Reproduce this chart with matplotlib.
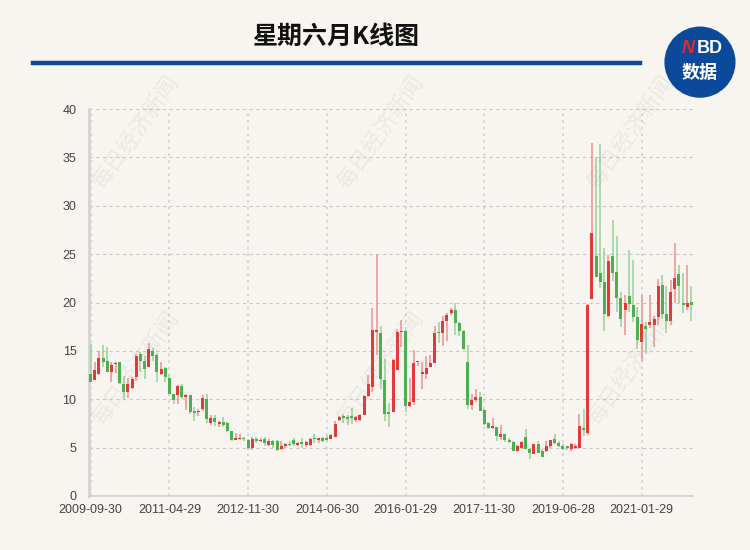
import matplotlib
matplotlib.use("Agg")
from matplotlib import pyplot as plt
from matplotlib.patches import Ellipse
import numpy as np
import pandas as pd

plt.rcParams['font.family'] = ['Liberation Sans', 'Noto Sans CJK SC', 'DejaVu Sans']

# 月K线数据 (开, 高, 低, 收)
opens = [12.6, 12.0, 12.6, 14.3, 14.0, 12.8, 13.6, 13.8, 11.6, 10.7,
         11.2, 12.3, 14.7, 14.0, 13.3, 15.0, 14.6, 12.6, 13.2, 12.2,
         10.5, 10.4, 11.4, 10.2, 10.4, 8.8, 8.7, 9.0, 10.0, 7.5,
         8.1, 7.4, 7.6, 7.5, 6.7, 5.8, 5.9, 6.0, 5.8, 5.0,
         5.9, 5.7, 5.9, 5.3, 5.7, 5.7, 4.9, 5.2, 5.4, 5.8,
         5.3, 5.6, 5.3, 5.3, 6.0, 5.8, 6.0, 6.0, 5.9, 6.1,
         7.9, 8.2, 8.2, 8.2, 7.9, 7.9, 8.4, 10.3, 11.3, 17.0,
         16.8, 12.0, 8.7, 8.7, 13.05, 16.9, 17.1, 9.3, 9.7, 13.8,
         12.6, 12.6, 13.3, 13.7, 17.0, 16.8, 18.1, 18.9, 19.2, 17.9,
         17.1, 13.85, 9.45, 9.9, 10.2, 8.9, 7.5, 7.0, 7.1, 6.1,
         6.4, 5.8, 5.6, 4.7, 5.0, 6.1, 4.9, 4.3, 5.4, 4.6,
         4.65, 5.2, 5.85, 5.5, 5.2, 5.1, 4.85, 5.0, 5.0, 7.0,
         6.5, 20.4, 24.85, 23.0, 22.1, 18.65, 24.85, 23.2, 20.5, 19.2,
         20.7, 19.7, 18.5, 15.9, 17.6, 17.7, 17.7, 18.5, 21.85, 18.8,
         18.1, 21.4, 22.95, 20.0, 19.5, 20.1]
highs = [15.7, 13.9, 15.0, 15.6, 15.4, 13.8, 13.9, 13.9, 12.4, 12.2,
         12.3, 14.7, 14.9, 14.5, 15.8, 15.3, 14.8, 13.9, 13.3, 12.5,
         10.5, 11.5, 11.6, 10.5, 10.4, 9.2, 9.0, 10.4, 10.5, 8.4,
         8.4, 7.8, 8.2, 7.6, 6.7, 6.55, 6.4, 6.1, 5.9, 6.1,
         6.1, 6.0, 6.1, 5.9, 5.8, 5.8, 5.7, 5.5, 5.7, 6.0,
         5.6, 6.0, 5.7, 6.0, 6.4, 6.0, 6.1, 6.2, 6.4, 7.8,
         8.3, 8.5, 8.4, 9.1, 8.3, 8.5, 10.4, 12.5, 19.4, 25.0,
         17.6, 14.2, 9.6, 14.2, 17.3, 18.2, 17.2, 12.2, 15.1, 14.0,
         13.8, 14.5, 14.6, 17.6, 17.95, 18.6, 18.9, 19.4, 20.0, 18.0,
         17.2, 15.6, 10.5, 11.1, 10.7, 9.0, 7.6, 8.05, 7.15, 7.35,
         6.45, 5.95, 5.7, 5.3, 5.7, 6.9, 5.0, 5.4, 5.7, 4.9,
         5.7, 5.75, 6.4, 5.7, 5.4, 5.2, 5.45, 5.4, 8.5, 9.0,
         19.8, 36.5, 35.05, 36.4, 25.6, 24.9, 28.5, 26.9, 21.05, 20.8,
         25.4, 24.4, 19.5, 20.8, 18.0, 20.8, 18.65, 22.4, 22.8, 21.75,
         22.3, 26.1, 23.9, 23.1, 23.9, 21.75]
lows = [11.8, 12.0, 12.5, 13.3, 12.8, 11.8, 12.7, 11.6, 9.9, 10.1,
        11.1, 11.9, 12.8, 12.1, 13.3, 14.0, 11.8, 12.5, 11.8, 10.5,
        9.5, 9.5, 10.0, 8.9, 8.5, 7.8, 8.3, 8.8, 7.5, 7.3,
        7.2, 7.1, 7.1, 6.6, 5.7, 5.75, 5.75, 5.7, 4.8, 4.8,
        5.5, 5.6, 5.2, 5.2, 5.0, 4.7, 4.8, 5.0, 5.2, 5.2,
        5.2, 5.0, 5.1, 5.2, 5.5, 5.5, 5.6, 5.7, 5.85, 6.1,
        7.8, 7.5, 7.3, 7.4, 7.6, 7.8, 8.4, 10.2, 10.75, 14.6,
        11.1, 7.7, 7.15, 8.7, 13.05, 15.4, 8.7, 9.2, 9.4, 13.4,
        11.1, 12.1, 13.3, 13.7, 15.8, 15.5, 16.0, 18.75, 16.6, 16.5,
        15.1, 9.0, 8.9, 9.7, 8.75, 7.35, 6.9, 6.9, 5.7, 5.8,
        5.6, 5.5, 4.65, 4.5, 4.9, 4.85, 3.8, 4.3, 4.4, 4.0,
        4.5, 5.0, 5.35, 5.05, 4.8, 4.8, 4.6, 4.9, 5.0, 6.2,
        6.3, 20.4, 22.6, 21.5, 17.1, 18.55, 22.25, 19.0, 17.45, 16.6,
        19.0, 17.95, 15.2, 14.0, 14.7, 17.4, 15.45, 17.7, 18.3, 16.8,
        17.7, 20.0, 20.0, 18.9, 19.2, 18.1]
closes = [11.8, 13.0, 14.3, 13.8, 12.8, 13.5, 13.7, 11.7, 10.7, 11.6,
          12.1, 14.5, 14.0, 13.1, 15.2, 14.5, 12.8, 13.1, 12.3, 10.5,
          9.9, 11.4, 10.2, 10.4, 8.7, 8.6, 8.8, 10.1, 8.0, 8.1,
          7.6, 7.6, 7.3, 6.7, 5.8, 6.0, 6.0, 5.9, 5.0, 5.9,
          5.7, 5.8, 5.5, 5.7, 5.3, 4.8, 5.2, 5.4, 5.3, 5.35,
          5.5, 5.35, 5.6, 5.9, 5.9, 5.95, 5.7, 5.8, 6.3, 7.4,
          8.2, 8.1, 8.0, 8.1, 8.2, 8.4, 10.3, 11.6, 17.2, 17.2,
          12.1, 8.5, 8.5, 14.1, 17.0, 17.05, 9.3, 9.7, 13.7, 13.95,
          12.8, 13.2, 13.7, 16.8, 16.8, 18.1, 18.75, 19.2, 17.9, 17.1,
          15.2, 9.4, 9.9, 10.2, 8.8, 7.4, 7.0, 7.25, 6.2, 6.45,
          5.75, 5.6, 4.7, 5.2, 5.6, 4.9, 4.4, 5.4, 4.4, 4.0,
          5.2, 5.75, 5.5, 5.2, 4.9, 5.0, 5.4, 5.2, 7.2, 6.8,
          19.7, 27.15, 22.6, 22.1, 18.8, 24.3, 23.1, 20.5, 18.3, 20.0,
          19.85, 18.5, 16.15, 17.8, 17.3, 17.95, 18.3, 21.75, 18.8, 18.05,
          21.05, 22.5, 21.75, 19.7, 20.0, 19.7]

# 月份(停牌月份缺失)
months = [str(p) for p in pd.period_range('2009-09', '2022-01', freq='M')
          if str(p) not in ('2016-06', '2016-07', '2016-08')]
tick_labels = ['2009-09-30', '2011-04-29', '2012-11-30', '2014-06-30',
               '2016-01-29', '2017-11-30', '2019-06-28', '2021-01-29']

bg = '#f8f5f0'
red = '#e2393a'
green = '#4caf50'
red_l = '#ec9a98'
green_l = '#9fd49f'

fig = plt.figure(figsize=(7.5, 5.5), dpi=100, facecolor=bg)
ax = fig.add_axes([0.1187, 0.0982, 0.8053, 0.7036], facecolor=bg)

x = np.arange(len(opens))
o = np.array(opens)
h = np.array(highs)
l = np.array(lows)
c = np.array(closes)
up = c >= o

ax.vlines(x[up], l[up], h[up], color=red_l, linewidth=1.2, zorder=3)
ax.vlines(x[~up], l[~up], h[~up], color=green_l, linewidth=1.2, zorder=3)
body_bottom = np.minimum(o, c)
body_h = np.maximum(np.abs(c - o), 0.12)
ax.bar(x[up], body_h[up], bottom=body_bottom[up], width=0.72, color=red, zorder=4)
ax.bar(x[~up], body_h[~up], bottom=body_bottom[~up], width=0.72, color=green, zorder=4)

ax.set_xlim(-0.4, len(opens) - 0.6)
ax.set_ylim(0, 40)
ax.set_yticks(np.arange(0, 41, 5))
tick_pos = [months.index(t[:7]) for t in tick_labels]
ax.set_xticks(tick_pos)
ax.set_xticklabels(tick_labels)
ax.tick_params(axis='both', length=0, labelsize=9, colors='#444444', pad=6)
ax.tick_params(axis='y', pad=9)

ax.grid(axis='y', color='#c8c8c8', linestyle=(0, (3, 3)), linewidth=0.8)
ax.grid(axis='x', color='#d0d0d0', linestyle=(0, (1.5, 2.5)), linewidth=1.2)
ax.set_axisbelow(True)
for s in ['top', 'right']:
    ax.spines[s].set_visible(False)
ax.spines['left'].set_color('#d4d4d4')
ax.spines['left'].set_linewidth(2)
ax.spines['bottom'].set_color('#cfcfcf')
ax.spines['bottom'].set_linewidth(1.2)

# 标题与装饰
fig.text(0.447, 0.932, '星期六月K线图', ha='center', va='center', fontsize=18,
         fontweight='bold', family=['Noto Sans CJK SC', 'DejaVu Sans'], color='#111111')
fig.add_artist(plt.Line2D([0.044, 0.853], [0.885, 0.885], color='#0b4a9a',
                          linewidth=3.2, transform=fig.transFigure))
fig.add_artist(Ellipse((0.9333, 0.887), 0.093, 0.127, transform=fig.transFigure,
                       color='#0b4a9a'))
fig.text(0.917, 0.912, 'N', ha='center', va='center', fontsize=13, fontweight='bold',
         color='#e8262b', family=['Liberation Sans', 'DejaVu Sans'], style='italic')
fig.text(0.946, 0.912, 'BD', ha='center', va='center', fontsize=13, fontweight='bold',
         color='white', family=['Liberation Sans', 'DejaVu Sans'])
fig.text(0.9333, 0.868, '数据', ha='center', va='center', fontsize=13, fontweight='bold',
         color='white', family=['Noto Sans CJK SC', 'DejaVu Sans'])

# 水印
for wx in [0.18, 0.507, 0.84]:
    for wy in [0.76, 0.33]:
        fig.text(wx, wy, '每日经济新闻', ha='center', va='center', fontsize=16,
                 rotation=55, color='#999999', alpha=0.13,
                 family=['Noto Sans CJK SC', 'DejaVu Sans'], zorder=0)

fig.savefig('out.png', dpi=100, facecolor=bg)
